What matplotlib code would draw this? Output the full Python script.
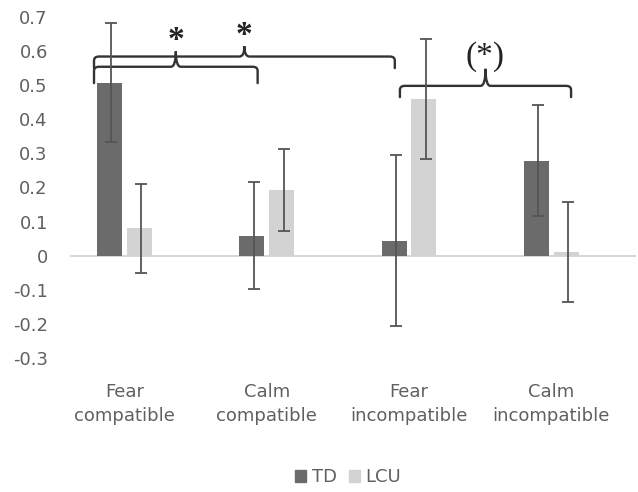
import matplotlib.pyplot as plt
from matplotlib.path import Path
from matplotlib.patches import PathPatch, Patch
import numpy as np

plt.rcParams['font.family'] = ['DejaVu Sans']

# data
categories = ['Fear\ncompatible', 'Calm\ncompatible', 'Fear\nincompatible', 'Calm\nincompatible']
td_means = [0.507, 0.059, 0.044, 0.278]
td_err = [0.175, 0.157, 0.25, 0.163]
lcu_means = [0.08, 0.193, 0.46, 0.01]
lcu_err = [0.13, 0.12, 0.176, 0.147]
yticks = [-0.3, -0.2, -0.1, 0, 0.1, 0.2, 0.3, 0.4, 0.5, 0.6, 0.7]

# significance braces: (x start, x end, y level, end drop, tip height, label)
braces = [
    (-0.216, 0.935, 0.554, 0.048, 0.045, '*'),
    (-0.216, 1.90, 0.584, 0.034, 0.030, '*'),
    (1.936, 3.14, 0.498, 0.033, 0.050, '(*)'),
]

td_color = '#6b6b6b'
lcu_color = '#d3d3d3'
err_color = '#555555'
text_color = '#606060'


def draw_brace(ax, x0, x1, y, drop, tip, label):
    xm = (x0 + x1) / 2
    rx = 0.035
    ry = 0.012
    verts = [
        (x0, y - drop), (x0, y - ry),
        (x0, y), (x0 + rx, y),
        (xm - rx, y),
        (xm, y), (xm, y + tip),
        (xm, y), (xm + rx, y),
        (x1 - rx, y),
        (x1, y), (x1, y - ry),
        (x1, y - drop),
    ]
    codes = [Path.MOVETO, Path.LINETO,
             Path.CURVE3, Path.CURVE3,
             Path.LINETO,
             Path.CURVE3, Path.CURVE3,
             Path.CURVE3, Path.CURVE3,
             Path.LINETO,
             Path.CURVE3, Path.CURVE3,
             Path.LINETO]
    ax.add_patch(PathPatch(Path(verts, codes), facecolor='none',
                           edgecolor='#333333', lw=1.7, capstyle='round'))
    if label == '*':
        ax.text(xm, y + tip - 0.014, label, ha='center', va='bottom',
                fontsize=24, fontweight='bold', family='Liberation Serif', color='#222222')
    else:
        ax.text(xm, y + tip - 0.008, label, ha='center', va='bottom',
                fontsize=24, family='Liberation Serif', color='#222222')


fig = plt.figure(figsize=(6.38, 4.92), dpi=100)
ax = fig.add_axes([0.1097, 0.2724, 0.887, 0.6931])

x = np.arange(len(categories))
w = 0.176
off = 0.105
ax.bar(x - off, td_means, w, color=td_color, zorder=2)
ax.bar(x + off, lcu_means, w, color=lcu_color, zorder=2)
ax.errorbar(x - off + 0.012, td_means, yerr=td_err, fmt='none', ecolor=err_color,
            elinewidth=1.3, capsize=4.5, capthick=1.3, zorder=3)
ax.errorbar(x + off + 0.012, lcu_means, yerr=lcu_err, fmt='none', ecolor=err_color,
            elinewidth=1.3, capsize=4.5, capthick=1.3, zorder=3)

ax.axhline(0, color='#d0d0d0', lw=1.2, zorder=1)

for b in braces:
    draw_brace(ax, *b)

ax.set_xlim(-0.385, 3.596)
ax.set_ylim(-0.3, 0.7)
ax.set_yticks(yticks)
ax.set_yticklabels(['0' if v == 0 else f'{v:.1f}' for v in yticks])
ax.set_xticks(x)
ax.set_xticklabels(categories, linespacing=1.4)
ax.tick_params(axis='both', length=0, labelsize=13, colors=text_color)
ax.tick_params(axis='y', pad=16)
ax.tick_params(axis='x', pad=18)
for s in ax.spines.values():
    s.set_visible(False)

handles = [Patch(color=td_color, label='TD'), Patch(color=lcu_color, label='LCU')]
leg = fig.legend(handles=handles, loc='center', bbox_to_anchor=(0.546, 0.03), ncol=2,
                 frameon=False, fontsize=13, handlelength=0.6, handleheight=0.6,
                 handletextpad=0.3, columnspacing=0.7)
for t in leg.get_texts():
    t.set_color(text_color)

fig.savefig('out.png', dpi=100)
